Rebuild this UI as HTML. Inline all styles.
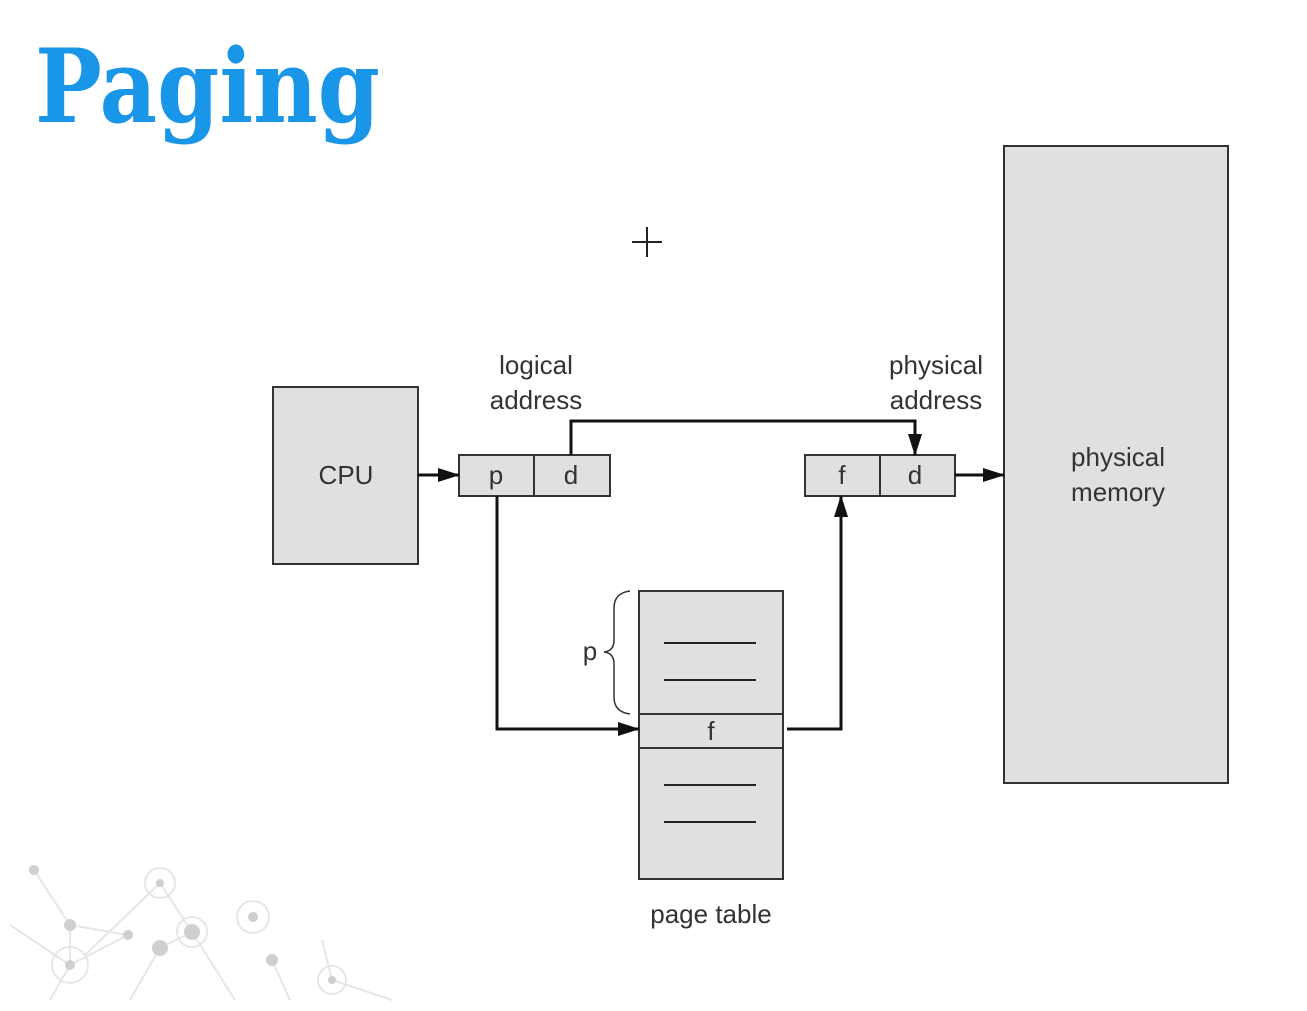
<!DOCTYPE html>
<html><head><meta charset="utf-8"><style>
html,body{margin:0;padding:0;background:#fff;}
svg{display:block;}
text{font-family:"Liberation Sans",sans-serif;}
</style></head><body>
<svg width="1307" height="1011" viewBox="0 0 1307 1011" xmlns="http://www.w3.org/2000/svg">
<defs>
<marker id="ah" markerWidth="22" markerHeight="16" refX="21" refY="8" orient="auto" markerUnits="userSpaceOnUse">
<path d="M0,1 L22,8 L0,15 Z" fill="#111"/>
</marker>
</defs>
<rect width="1307" height="1011" fill="#fff"/>
<g stroke="#e6e6e6" stroke-width="2" fill="none">
<line x1="34" y1="870" x2="70" y2="925"/><line x1="70" y1="925" x2="128" y2="935"/>
<line x1="70" y1="925" x2="70" y2="965"/><line x1="10" y1="925" x2="70" y2="965"/>
<line x1="70" y1="965" x2="128" y2="935"/><line x1="70" y1="965" x2="50" y2="1000"/>
<line x1="160" y1="883" x2="85" y2="955"/><line x1="160" y1="883" x2="192" y2="932"/>
<line x1="160" y1="948" x2="192" y2="932"/><line x1="192" y1="932" x2="235" y2="1000"/>
<line x1="272" y1="960" x2="290" y2="1000"/><line x1="322" y1="940" x2="332" y2="980"/>
<line x1="332" y1="980" x2="392" y2="1000"/><line x1="160" y1="948" x2="130" y2="1000"/>
<circle cx="160" cy="883" r="15"/><circle cx="192" cy="932" r="15"/><circle cx="70" cy="965" r="18"/>
<circle cx="253" cy="917" r="16"/><circle cx="332" cy="980" r="14"/>
</g>
<g fill="#cfcfcf">
<circle cx="34" cy="870" r="5"/><circle cx="70" cy="925" r="6"/><circle cx="128" cy="935" r="5"/>
<circle cx="70" cy="965" r="5"/><circle cx="160" cy="883" r="4"/><circle cx="192" cy="932" r="8"/>
<circle cx="160" cy="948" r="8"/><circle cx="253" cy="917" r="5"/><circle cx="272" cy="960" r="6"/>
<circle cx="332" cy="980" r="4"/>
</g>
<text x="35" y="122" font-weight="bold" font-size="102" fill="#1a96e8" textLength="345" lengthAdjust="spacingAndGlyphs" style="font-family:'DejaVu Serif',serif">Paging</text>
<g stroke="#222" stroke-width="2"><line x1="632" y1="242" x2="662" y2="242"/><line x1="647" y1="227" x2="647" y2="257"/></g>
<g fill="#dfe1df" stroke="#333" stroke-width="2">
<rect x="273" y="387" width="145" height="177"/>
<rect x="459" y="455" width="75" height="41"/><rect x="534" y="455" width="76" height="41"/>
<rect x="805" y="455" width="75" height="41"/><rect x="880" y="455" width="75" height="41"/>
<rect x="1004" y="146" width="224" height="637"/>
<rect x="639" y="591" width="144" height="288"/>
<rect x="639" y="714" width="144" height="34"/>
</g>
<g stroke="#222" stroke-width="2">
<line x1="664" y1="643" x2="756" y2="643"/><line x1="664" y1="680" x2="756" y2="680"/>
<line x1="664" y1="785" x2="756" y2="785"/><line x1="664" y1="822" x2="756" y2="822"/>
</g>
<g stroke="#111" stroke-width="3" fill="none">
<line x1="418" y1="475" x2="459" y2="475" marker-end="url(#ah)"/>
<polyline points="571,455 571,421 915,421 915,455" marker-end="url(#ah)"/>
<polyline points="497,496 497,729 639,729" marker-end="url(#ah)"/>
<polyline points="787,729 841,729 841,496" marker-end="url(#ah)"/>
<line x1="955" y1="475" x2="1004" y2="475" marker-end="url(#ah)"/>
</g>
<path d="M630,591 Q614,593 614,608 L614,640 Q614,651 604,652 Q614,653 614,664 L614,697 Q614,712 630,714" fill="none" stroke="#333" stroke-width="1.5"/>
<g fill="#333" font-size="26" text-anchor="middle">
<text x="346" y="484">CPU</text>
<text x="496" y="484">p</text><text x="571" y="484">d</text>
<text x="842" y="484">f</text><text x="915" y="484">d</text>
<text x="711" y="740">f</text>
<text x="590" y="660">p</text>
<text x="536" y="374">logical</text><text x="536" y="409">address</text>
<text x="936" y="374">physical</text><text x="936" y="409">address</text>
<text x="1118" y="466">physical</text><text x="1118" y="501">memory</text>
<text x="711" y="923">page table</text>
</g>
</svg>
</body></html>
